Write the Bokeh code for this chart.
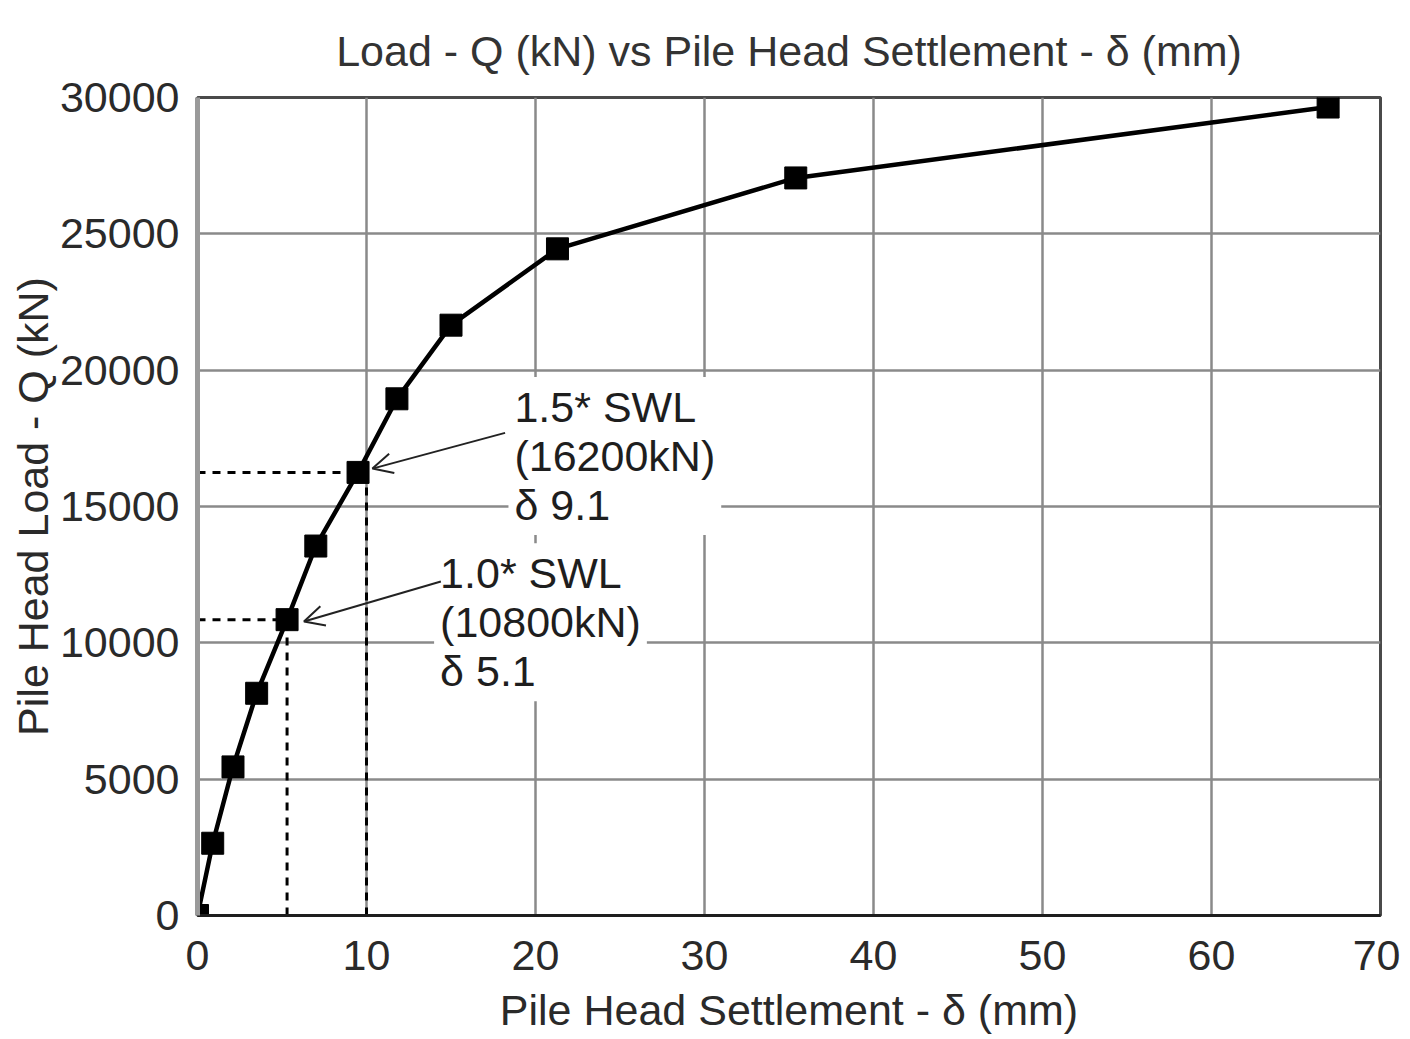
from bokeh.plotting import figure
from bokeh.models import Range1d, Label, Arrow, OpenHead, FixedTicker
from bokeh.embed import file_html
from bokeh.resources import INLINE

# ---- data ----
settlement_mm = [0.0, 0.9, 2.1, 3.5, 5.3, 7.0, 9.5, 11.8, 15.0, 21.3, 35.4, 66.9]
load_kn = [0, 2650, 5450, 8150, 10850, 13550, 16250, 18950, 21650, 24450, 27050, 29650]

x_ticks = [0, 10, 20, 30, 40, 50, 60, 70]
y_ticks = [0, 5000, 10000, 15000, 20000, 25000, 30000]

# SWL reference markers
swl_point_x = [5.3, 9.5]
swl_vline_x = [5.3, 10.0]
swl_load = [10850, 16250]
swl_text = ["1.0* SWL\n(10800kN)\n\u03b4 5.1", "1.5* SWL\n(16200kN)\n\u03b4 9.1"]
swl_text_x = [14.0, 18.4]
swl_text_y = [13650, 19750]
arrow_start_x = [14.4, 18.2]
arrow_start_y = [12250, 17700]
arrow_end_x = [6.3, 10.35]
arrow_end_y = [10780, 16390]

FONT = "Liberation Sans"
FS = "43px"

p = figure(width=1400, height=1039, output_backend="svg", toolbar_location=None,
           x_range=Range1d(0, 70), y_range=Range1d(0, 30000),
           min_border_left=197, min_border_right=20, min_border_top=97, min_border_bottom=124,
           background_fill_color="white", border_fill_color="white")

p.title.text = "Load - Q (kN) vs Pile Head Settlement - \u03b4 (mm)"
p.title.align = "center"
p.title.text_font = FONT
p.title.text_font_size = FS
p.title.text_font_style = "normal"
p.title.text_color = "#333333"
p.title.standoff = 46

# axes
p.xaxis.ticker = FixedTicker(ticks=x_ticks)
p.yaxis.ticker = FixedTicker(ticks=y_ticks)
for ax in (p.xaxis[0], p.yaxis[0]):
    ax.major_label_text_font = FONT
    ax.major_label_text_font_size = FS
    ax.major_label_text_color = "#2a2a2a"
    ax.major_tick_out = 0
    ax.major_tick_in = 0
    ax.minor_tick_out = 0
    ax.minor_tick_in = 0
    ax.axis_label_text_font = FONT
    ax.axis_label_text_font_size = FS
    ax.axis_label_text_font_style = "normal"
    ax.axis_label_text_color = "#2a2a2a"
p.xaxis.major_label_standoff = 25
p.yaxis.major_label_standoff = 18
p.xaxis.axis_line_color = "#1e1e1e"
p.xaxis.axis_line_width = 3
p.yaxis.axis_line_color = "#9a9a9a"
p.yaxis.axis_line_width = 5
p.yaxis.formatter.use_scientific = False

p.xaxis.axis_label = "Pile Head Settlement - \u03b4 (mm)"
p.xaxis.axis_label_standoff = 13
p.yaxis.axis_label = "Pile Head Load - Q (kN)"
p.yaxis.axis_label_standoff = 0

p.grid.grid_line_color = "#8a8a8a"
p.grid.grid_line_width = 2.5
p.outline_line_color = "#4a4a4a"
p.outline_line_width = 3

# dashed SWL guides
p.segment(x0=[0] * len(swl_load), y0=swl_load, x1=swl_point_x, y1=swl_load,
          line_color="black", line_width=3, line_dash="8 7")
p.segment(x0=swl_vline_x, y0=[0] * len(swl_load), x1=swl_vline_x, y1=swl_load,
          line_color="black", line_width=3, line_dash="8 7")

# curve
p.line(settlement_mm, load_kn, line_color="black", line_width=4.5)
p.scatter(settlement_mm, load_kn, marker="square", size=22, fill_color="black", line_color="black")

# annotations
for tx, ty, t in zip(swl_text_x, swl_text_y, swl_text):
    p.add_layout(Label(x=tx, y=ty, text=t, text_align="left", text_baseline="top",
                       text_font=FONT, text_font_size=FS, text_color="#1e1e1e",
                       text_line_height=1.02,
                       background_fill_color="white", background_fill_alpha=1.0,
                       padding=6))
for sx, sy, ex, ey in zip(arrow_start_x, arrow_start_y, arrow_end_x, arrow_end_y):
    p.add_layout(Arrow(x_start=sx, y_start=sy, x_end=ex, y_end=ey, line_width=2,
                       line_color="#222222",
                       end=OpenHead(size=20, line_width=2, line_color="#222222")))

open("out.html", "w").write(file_html(p, INLINE))
